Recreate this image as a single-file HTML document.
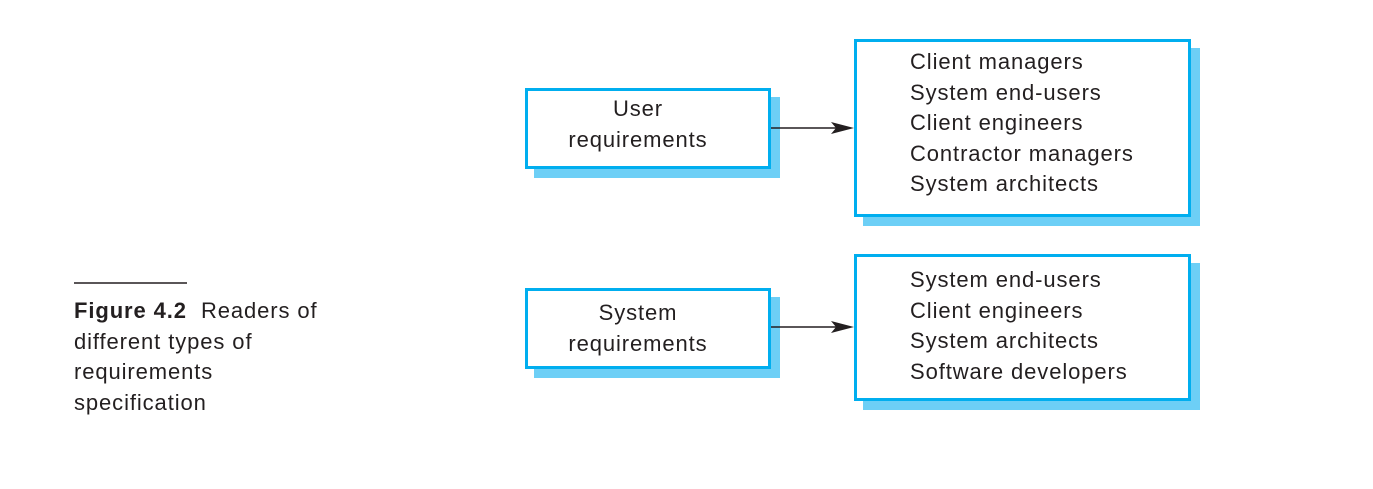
<!DOCTYPE html>
<html><head><style>
body{margin:0;width:1373px;height:489px;background:#fff;position:relative;overflow:hidden;font-family:"Liberation Sans",sans-serif;color:#231f20}
.b{position:absolute;border:3px solid #00aeef;background:#fff;box-sizing:border-box}
.s{position:absolute;background:#6dcff6}
.t{position:absolute;font-size:22px;line-height:30.5px;letter-spacing:0.9px;white-space:nowrap}
.c{text-align:center}
</style></head><body>
<div class="s" style="left:534px;top:97px;width:246px;height:81px"></div>
<div class="b" style="left:525px;top:88px;width:246px;height:81px"></div>
<div class="t c" style="left:538px;top:94px;width:200px">User<br>requirements</div>

<div class="s" style="left:863px;top:48px;width:337px;height:178px"></div>
<div class="b" style="left:854px;top:39px;width:337px;height:178px"></div>
<div class="t" style="left:910px;top:47px">Client managers<br>System end-users<br>Client engineers<br>Contractor managers<br>System architects</div>

<div class="s" style="left:534px;top:297px;width:246px;height:81px"></div>
<div class="b" style="left:525px;top:288px;width:246px;height:81px"></div>
<div class="t c" style="left:538px;top:298px;width:200px">System<br>requirements</div>

<div class="s" style="left:863px;top:263px;width:337px;height:147px"></div>
<div class="b" style="left:854px;top:254px;width:337px;height:147px"></div>
<div class="t" style="left:910px;top:265px">System end-users<br>Client engineers<br>System architects<br>Software developers</div>

<svg style="position:absolute;left:0;top:0" width="1373" height="489">
<line x1="771" y1="128" x2="842" y2="128" stroke="#231f20" stroke-width="1.5"/>
<polygon points="854,128 831,122 836,128 831,134" fill="#231f20"/>
<line x1="771" y1="327" x2="842" y2="327" stroke="#231f20" stroke-width="1.5"/>
<polygon points="854,327 831,321 836,327 831,333" fill="#231f20"/>
<line x1="74" y1="283" x2="187" y2="283" stroke="#231f20" stroke-width="1.5"/>
</svg>
<div class="t" style="left:74px;top:296px"><b>Figure 4.2</b>&nbsp; Readers of<br>different types of<br>requirements<br>specification</div>
</body></html>
